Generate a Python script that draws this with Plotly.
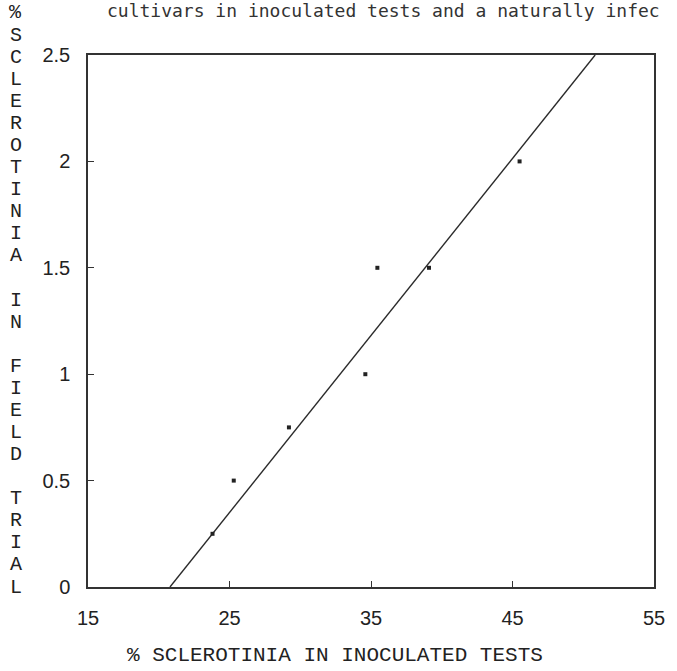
import plotly.graph_objects as go

# Percent Sclerotinia per cultivar: inoculated tests (x) vs field trial (y)
inoculated_pct = [23.8, 25.3, 29.2, 34.6, 35.45, 39.1, 45.5]
field_pct = [0.25, 0.5, 0.75, 1.0, 1.5, 1.5, 2.0]

# Fitted regression line (slope / intercept)
fit_slope = 0.0832
fit_intercept = -1.73

x_ticks = [15, 25, 35, 45, 55]
y_ticks = [0, 0.5, 1, 1.5, 2, 2.5]

title_text = "cultivars in inoculated tests and a naturally infec"
x_title = "% SCLEROTINIA IN INOCULATED TESTS"
y_title_lines = ["%", "SCLEROTINIA", "", "IN", "", "FIELD", "", "TRIAL"]

W, H = 677, 671
L, R, T, B = 88, 18, 55, 84
PW, PH = W - L - R, H - T - B

def px_x(px):
    return (px - L) / PW

def px_y(py):
    return (H - B - py) / PH

ink = "#222222"

fig = go.Figure()

# Regression line from y = 0 up to the top of the axis
y_lo, y_hi = 0.0, 2.5
line_x = [(y_lo - fit_intercept) / fit_slope, (y_hi - fit_intercept) / fit_slope]
line_y = [fit_slope * v + fit_intercept for v in line_x]
fig.add_trace(go.Scatter(x=line_x, y=line_y, mode="lines",
                         line=dict(color="#2a2a2a", width=1.4),
                         hoverinfo="skip", showlegend=False))

fig.add_trace(go.Scatter(x=inoculated_pct, y=field_pct, mode="markers",
                         marker=dict(symbol="square", size=4, color=ink),
                         showlegend=False))

axis_common = dict(showline=True, linecolor="#333333", linewidth=1.5, mirror=True,
                   showgrid=False, zeroline=False, ticks="inside", ticklen=6,
                   tickwidth=1.2, tickcolor="#333333",
                   tickfont=dict(family="Liberation Sans, Arial, sans-serif", size=20, color=ink))

fig.update_xaxes(range=[15, 55], tickmode="array", tickvals=x_ticks,
                 ticktext=[str(v) for v in x_ticks], ticklabelstandoff=12, **axis_common)
fig.update_yaxes(range=[0, 2.5], tickmode="array", tickvals=y_ticks,
                 ticktext=["0", "0.5", "1", "1.5", "2", "2.5"], ticklabelstandoff=12,
                 **axis_common)

annotations = []
# Caption line along the very top of the page
annotations.append(dict(text=title_text, xref="paper", yref="paper",
                        x=px_x(105), y=px_y(10), xanchor="left", yanchor="middle",
                        showarrow=False,
                        font=dict(family="DejaVu Sans Mono, monospace", size=18, color="#333333")))
# X axis title
annotations.append(dict(text=x_title, xref="paper", yref="paper",
                        x=px_x(337), y=px_y(655), xanchor="center", yanchor="middle",
                        showarrow=False,
                        font=dict(family="Liberation Mono, Courier New, monospace", size=21, color=ink)))
# Y axis title: letters stacked vertically, one per row
letters = []
for word in y_title_lines:
    letters.extend(list(word) if word else [""])
step = (587 - 13) / (len(letters) - 1)
for i, ch in enumerate(letters):
    if not ch:
        continue
    annotations.append(dict(text=ch, xref="paper", yref="paper",
                            x=px_x(15), y=px_y(13 + i * step), xanchor="center", yanchor="middle",
                            showarrow=False,
                            font=dict(family="Liberation Mono, Courier New, monospace", size=20, color=ink)))

fig.update_layout(width=W, height=H, autosize=False,
                  margin=dict(l=L, r=R, t=T, b=B, pad=0),
                  plot_bgcolor="white", paper_bgcolor="white",
                  annotations=annotations, showlegend=False)

fig.write_html("out.html")
